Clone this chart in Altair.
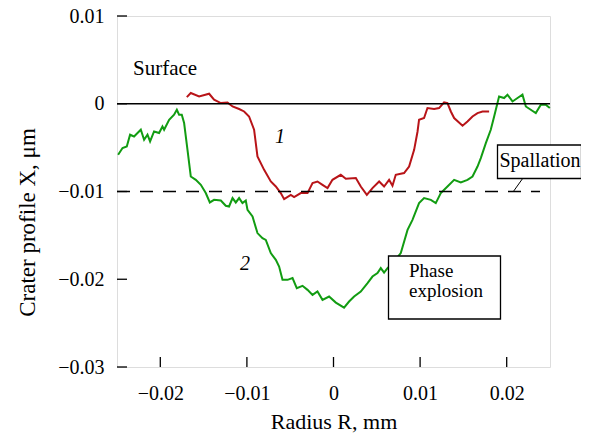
import altair as alt
import pandas as pd

# Curve 1 (red): radius (mm) and crater profile (um)
r1 = [-0.01694, -0.01648, -0.01552, -0.01436, -0.01379, -0.01301, -0.01224, -0.01166,
      -0.0109, -0.01032, -0.00975, -0.00917, -0.00878, -0.00801, -0.00724, -0.00666,
      -0.00609, -0.0057, -0.00493, -0.00455, -0.00378, -0.003, -0.00242, -0.00185,
      -0.00127, -0.00069, -0.00012, 0.00084, 0.00142, 0.00258, 0.00315, 0.00385,
      0.0045, 0.00527, 0.00584, 0.00642, 0.00681, 0.00719, 0.00815, 0.00873,
      0.00931, 0.0097, 0.00988, 0.01046, 0.01085, 0.01162, 0.01219, 0.01277,
      0.01316, 0.01355, 0.01393, 0.0149, 0.01547, 0.01605, 0.01663, 0.01721, 0.01797]
x1 = [0.00076, 0.00122, 0.00083, 0.00114, 0.00046, 0.00008, 0.00015, -0.00031,
      -0.0006, -0.00088, -0.00145, -0.00296, -0.00601, -0.00753, -0.00886, -0.00943,
      -0.01018, -0.01087, -0.01038, -0.01064, -0.01018, -0.01018, -0.00904, -0.00886,
      -0.00924, -0.00961, -0.00867, -0.0081, -0.00855, -0.00847, -0.00943, -0.01038,
      -0.00961, -0.00886, -0.00943, -0.00867, -0.00935, -0.0081, -0.0079, -0.00715,
      -0.00525, -0.00319, -0.00182, -0.00163, -0.00049, -0.0006, -0.00049, 0.00015,
      0.00008, -0.00088, -0.00163, -0.00251, -0.00202, -0.00145, -0.00106, -0.00088, -0.00088]

# Curve 2 (green)
r2 = [-0.02487, -0.02436, -0.02387, -0.02349, -0.02303, -0.02263, -0.02225, -0.02187,
      -0.02148, -0.02118, -0.02072, -0.02014, -0.01975, -0.01956, -0.01898, -0.01841,
      -0.01809, -0.01783, -0.01752, -0.01725, -0.01686, -0.01648, -0.0159, -0.01532,
      -0.01475, -0.01428, -0.01379, -0.01301, -0.01244, -0.01206, -0.01166, -0.01128,
      -0.0109, -0.01051, -0.01013, -0.00993, -0.00935, -0.00878, -0.0082, -0.00782,
      -0.00724, -0.00666, -0.00628, -0.00589, -0.00531, -0.00473, -0.00424, -0.00358,
      -0.003, -0.00242, -0.00185, -0.00127, -0.00051, 0.00027, 0.00122, 0.0018,
      0.00238, 0.00315, 0.00393, 0.0045, 0.00508, 0.00546, 0.00584, 0.00624,
      0.00696, 0.00777, 0.00855, 0.00912, 0.00988, 0.01046, 0.01124, 0.01181,
      0.01239, 0.01316, 0.01393, 0.0147, 0.01547, 0.01605, 0.01663, 0.01701,
      0.01759, 0.01816, 0.01855, 0.01912, 0.0197, 0.02009, 0.02067, 0.02125,
      0.02182, 0.02221, 0.02278, 0.02336, 0.02394, 0.02451, 0.02498]
x2 = [-0.00582, -0.00505, -0.00487, -0.00353, -0.00373, -0.00334, -0.00296, -0.0041,
      -0.00353, -0.0043, -0.00316, -0.00334, -0.00259, -0.00296, -0.00182, -0.00125,
      -0.00068, -0.00125, -0.00125, -0.0022, -0.00525, -0.00829, -0.00867, -0.00924,
      -0.01018, -0.01125, -0.01095, -0.01103, -0.01163, -0.01171, -0.01075, -0.01125,
      -0.01075, -0.01132, -0.01103, -0.01209, -0.01285, -0.01474, -0.01531, -0.01551,
      -0.01702, -0.01779, -0.01855, -0.02007, -0.02007, -0.01987, -0.02101, -0.02075,
      -0.02121, -0.02178, -0.0214, -0.02235, -0.02197, -0.02266, -0.02323, -0.02254,
      -0.02197, -0.0214, -0.02044, -0.01969, -0.0193, -0.01873, -0.01924, -0.01873,
      -0.01802, -0.01702, -0.01437, -0.01323, -0.01132, -0.01075, -0.01095, -0.01132,
      -0.01018, -0.00943, -0.00867, -0.00897, -0.00867, -0.00829, -0.00715, -0.00619,
      -0.00448, -0.00296, -0.00145, 0.00083, 0.00065, 0.00103, 0.00026, 0.00065,
      0.00103, -0.00031, -0.00068, -0.00106, -0.00011, -0.00011, -0.00049]

x_ticks = [-0.02, -0.01, 0, 0.01, 0.02]
y_ticks = [-0.03, -0.02, -0.01, 0, 0.01]
surface_level = [0.0]
spallation_level = [-0.01]

W, H = 433, 351
FONT = "Times New Roman, Liberation Serif, DejaVu Serif, serif"

df1 = pd.DataFrame({"r": r1, "x": x1})
df2 = pd.DataFrame({"r": r2, "x": x2})

xs = alt.Scale(domain=[-0.025, 0.025], nice=False, zero=False)
ys = alt.Scale(domain=[-0.03, 0.01], nice=False, zero=False)

xaxis = alt.Axis(values=x_ticks, format=".2~f", ticks=False, domain=False, grid=False,
                 labelPadding=16, labelFontSize=20, labelFont=FONT, labelColor="black",
                 title="Radius R, mm", titleFont=FONT, titleFontSize=22,
                 titleFontWeight="normal", titleColor="black", titlePadding=8)
yaxis = alt.Axis(values=y_ticks, format=".2~f", ticks=False, domain=False, grid=False,
                 labelPadding=13, labelFontSize=20, labelFont=FONT, labelColor="black",
                 title="Crater profile X, μm", titleFont=FONT, titleFontSize=23,
                 titleFontWeight="normal", titleColor="black",
                 titleX=-90, titleY=206, titleAngle=-90, titleBaseline="middle",
                 titleAlign="center")

line1 = alt.Chart(df1).mark_line(color="#b81418", strokeWidth=2).encode(
    x=alt.X("r:Q", scale=xs, axis=xaxis),
    y=alt.Y("x:Q", scale=ys, axis=yaxis),
)
line2 = alt.Chart(df2).mark_line(color="#129c12", strokeWidth=2).encode(
    x=alt.X("r:Q", scale=xs),
    y=alt.Y("x:Q", scale=ys),
)

zero_line = alt.Chart(pd.DataFrame({"y": surface_level})).mark_rule(
    color="black", strokeWidth=1.5).encode(
    y=alt.Y("y:Q", scale=ys), x=alt.value(0), x2=alt.value(W))
dash_line = alt.Chart(pd.DataFrame({"y": spallation_level})).mark_rule(
    color="black", strokeWidth=1.3, strokeDash=[13, 10]).encode(
    y=alt.Y("y:Q", scale=ys), x=alt.value(0), x2=alt.value(423))

ytick_marks = alt.Chart(pd.DataFrame({"v": y_ticks})).mark_rule(
    color="black", strokeWidth=1.3).encode(
    y=alt.Y("v:Q", scale=ys), x=alt.value(0), x2=alt.value(10))
xtick_marks = alt.Chart(pd.DataFrame({"v": x_ticks})).mark_rule(
    color="black", strokeWidth=1.3).encode(
    x=alt.X("v:Q", scale=xs), y=alt.value(H), y2=alt.value(H - 10))

def label(text, x, y, italic=False, align="left", size=20):
    return alt.Chart(pd.DataFrame({"t": [text]})).mark_text(
        font=FONT, fontSize=size, color="black", align=align, baseline="middle",
        fontStyle="italic" if italic else "normal").encode(
        text="t:N", x=alt.value(x), y=alt.value(y))

surface_txt = label("Surface", 16, 53, size=21)
one_txt = label("1", 163, 121, italic=True, align="center")
two_txt = label("2", 128, 248, italic=True, align="center")

spall_leader = alt.Chart(pd.DataFrame({"a": [0]})).mark_rule(
    color="black", strokeWidth=1).encode(
    x=alt.value(406), y=alt.value(162), x2=alt.value(396), y2=alt.value(176))
spall_box = alt.Chart(pd.DataFrame({"a": [0]})).mark_rect(
    fill="white", stroke="black", strokeWidth=1.3).encode(
    x=alt.value(380.5), x2=alt.value(464.5), y=alt.value(129), y2=alt.value(162.5))
spall_txt = label("Spallation", 423, 145, align="center")

phase_box = alt.Chart(pd.DataFrame({"a": [0]})).mark_rect(
    fill="white", stroke="black", strokeWidth=1.3).encode(
    x=alt.value(271.5), x2=alt.value(383.5), y=alt.value(240), y2=alt.value(303))
phase_txt1 = label("Phase", 292, 255, size=19)
phase_txt2 = label("explosion", 292, 275, size=19)

chart = alt.layer(
    line1, line2, zero_line, dash_line, ytick_marks, xtick_marks,
    surface_txt, one_txt, two_txt,
    spall_leader, spall_box, spall_txt, phase_box, phase_txt1, phase_txt2,
).properties(
    width=W, height=H,
    autosize=alt.AutoSizeParams(type="none"),
    padding={"left": 109, "top": 8, "right": 31, "bottom": 66},
).configure_view(
    stroke="black", strokeWidth=1.5
).configure(background="white")

chart.save("out.html", embed_options={"renderer": "svg", "actions": False})
